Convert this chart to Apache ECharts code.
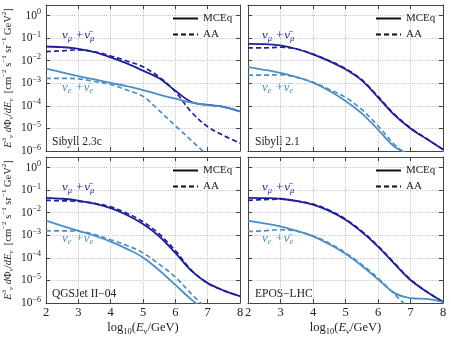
<!DOCTYPE html>
<html>
<head>
<meta charset="utf-8">
<script src="https://cdn.jsdelivr.net/npm/echarts@6/dist/echarts.min.js"></script>
<style>
html, body { margin: 0; padding: 0; background: #fff; }
#chart { width: 451px; height: 337px; }
</style>
</head>
<body>
<div id="chart"></div>
<script>
// log10(E/GeV) sample points
const logE = [2, 2.5, 3, 3.5, 4, 4.5, 5, 5.5, 6, 6.5, 7, 7.5, 8];
const models = ['Sibyll 2.3c', 'Sibyll 2.1', 'QGSJet II\u221204', 'EPOS\u2212LHC'];

// log10 of E^3 dPhi/dE
const sib23cNumuMceq = [-1.37, -1.40, -1.47, -1.62, -1.85, -2.12, -2.44, -2.78, -3.33, -3.83, -3.96, -4.04, -4.25];
const sib23cNumuAa   = [-1.60, -1.56, -1.52, -1.60, -1.79, -2.01, -2.27, -2.72, -3.37, -4.28, -4.92, -5.32, -5.65];
const sib23cNueMceq  = [-2.35, -2.52, -2.68, -2.83, -2.98, -3.13, -3.30, -3.50, -3.68, -3.86, -3.97, -4.05, -4.25];
const sib23cNueAa    = [-2.78, -2.78, -2.80, -2.92, -3.05, -3.30, -3.58, -4.21, -4.88, -5.54, -6.20, null, null];

const sib21NumuMceq = [-1.25, -1.26, -1.32, -1.48, -1.72, -2.02, -2.38, -2.87, -3.62, -4.40, -5.00, -5.47, -5.93];
const sib21NumuAa   = [-1.43, -1.43, -1.40, -1.48, -1.70, -2.00, -2.35, -2.84, -3.58, -4.37, -4.98, -5.46, -5.93];
const sib21NueMceq  = [-2.28, -2.40, -2.54, -2.73, -2.97, -3.33, -3.78, -4.33, -5.05, -5.80, -6.15, null, null];
const sib21NueAa    = [-2.64, -2.64, -2.62, -2.74, -2.95, -3.27, -3.62, -4.16, -4.88, -5.70, -6.30, null, null];

const qgsNumuMceq = [-1.34, -1.38, -1.46, -1.60, -1.80, -2.10, -2.50, -3.04, -3.78, -4.58, -5.12, -5.45, -5.70];
const qgsNumuAa   = [-1.45, -1.47, -1.50, -1.58, -1.74, -2.02, -2.40, -2.94, -3.68, -4.55, -5.12, -5.45, -5.70];
const qgsNueMceq  = [-2.35, -2.58, -2.80, -3.02, -3.28, -3.60, -3.98, -4.55, -5.20, -5.85, -6.40, null, null];
const qgsNueAa    = [-2.80, -2.80, -2.82, -2.97, -3.20, -3.45, -3.78, -4.28, -4.85, -5.60, -6.30, null, null];

const eposNumuMceq = [-1.34, -1.35, -1.38, -1.48, -1.64, -1.92, -2.31, -2.85, -3.50, -4.25, -4.98, -5.50, -5.95];
const eposNumuAa   = [-1.45, -1.42, -1.40, -1.48, -1.62, -1.89, -2.28, -2.82, -3.47, -4.22, -4.96, -5.50, -5.95];
const eposNueMceq  = [-2.35, -2.47, -2.60, -2.80, -3.05, -3.40, -3.82, -4.35, -4.95, -5.55, -5.78, -5.82, -5.95];
const eposNueAa    = [-2.83, -2.80, -2.75, -2.82, -3.02, -3.35, -3.78, -4.30, -4.90, -5.60, -6.30, null, null];

const panels = [
  [sib23cNumuMceq, sib23cNumuAa, sib23cNueMceq, sib23cNueAa],
  [sib21NumuMceq, sib21NumuAa, sib21NueMceq, sib21NueAa],
  [qgsNumuMceq, qgsNumuAa, qgsNueMceq, qgsNueAa],
  [eposNumuMceq, eposNumuAa, eposNueMceq, eposNueAa]
];

const darkBlue = '#1f1f9c';
const lightBlue = '#4a8fc8';
const serif = 'Liberation Serif';
const frameColor = '#444';

const grids = [
  { left: 45, right: 211, top: 5, bottom: 186 },
  { left: 248, right: 8, top: 5, bottom: 186 },
  { left: 45, right: 211, top: 157, bottom: 34 },
  { left: 248, right: 8, top: 157, bottom: 34 }
];

const toPoints = arr => logE.map((x, i) => [x, arr[i] == null ? null : Math.pow(10, arr[i])]).filter(p => p[1] != null);

const supRich = {
  b: { fontFamily: serif, fontSize: 11.5, lineHeight: 15, color: '#222' },
  s: { fontFamily: serif, fontSize: 8, lineHeight: 8, verticalAlign: 'top', color: '#222' }
};

const yFormatter = v => {
  const p = Math.log10(v);
  const r = Math.round(p);
  if (Math.abs(p - r) > 1e-6) return '';
  return '{b|10}{s|' + (r < 0 ? '\u2212' + (-r) : r) + '}';
};

const mathRich = {
  i: { fontFamily: serif, fontStyle: 'italic', fontSize: 10.5, lineHeight: 14, color: '#222' },
  sup: { fontFamily: serif, fontSize: 7, lineHeight: 7, verticalAlign: 'top', color: '#222' },
  sub: { fontFamily: serif, fontStyle: 'italic', fontSize: 7, lineHeight: 7, verticalAlign: 'bottom', color: '#222' }
};

const xAxes = [], yAxes = [], series = [], legends = [], graphics = [];

grids.forEach((g, k) => {
  const isBottom = k >= 2;
  const isLeft = k % 2 === 0;
  xAxes.push({
    type: 'value', gridIndex: k, min: 2, max: 8, interval: 1, position: 'bottom',
    axisLine: { show: true, lineStyle: { color: frameColor, width: 1 } },
    axisTick: { show: true, inside: true, length: 4, lineStyle: { color: frameColor } },
    axisLabel: { show: isBottom, margin: 3, fontFamily: serif, fontSize: 12.5, color: '#222' },
    splitLine: { show: true, lineStyle: { color: '#c8c8c8', type: 'dotted' } },
    name: isBottom ? '{n|log}{s|10}{n|(}{i|E}{s|\u03bd}{n|/GeV)}' : '',
    nameLocation: 'middle', nameGap: 17,
    nameTextStyle: {
      rich: {
        n: { fontFamily: serif, fontSize: 12.5, lineHeight: 16, color: '#222' },
        i: { fontFamily: serif, fontStyle: 'italic', fontSize: 12.5, lineHeight: 16, color: '#222' },
        s: { fontFamily: serif, fontSize: 8.5, lineHeight: 8, verticalAlign: 'bottom', color: '#222' }
      }
    }
  });
  xAxes.push({
    type: 'value', gridIndex: k, min: 2, max: 8, interval: 1, position: 'top',
    axisLine: { show: true, lineStyle: { color: frameColor, width: 1 } },
    axisTick: { show: true, inside: true, length: 4, lineStyle: { color: frameColor } },
    axisLabel: { show: false }, splitLine: { show: false }
  });
  yAxes.push({
    type: 'log', gridIndex: k, min: 1e-6, max: Math.pow(10, 0.47), logBase: 10, position: 'left',
    axisLine: { show: true, lineStyle: { color: frameColor, width: 1 } },
    axisTick: { show: true, inside: true, length: 4, lineStyle: { color: frameColor } },
    axisLabel: { show: isLeft, margin: 5, formatter: yFormatter, rich: supRich },
    splitLine: { show: true, lineStyle: { color: '#c8c8c8', type: 'dotted' } },
    name: isLeft ? '{i|E}{sup|3}{sub|\u03bd} {i|d}\u03a6{sub|\u03bd}/{i|dE}{sub|\u03bd}  [cm{sup|\u22122} s{sup|\u22121} sr{sup|\u22121} GeV{sup|2}]' : '',
    nameLocation: 'middle', nameRotate: 90, nameGap: 31,
    nameTextStyle: { fontFamily: serif, fontSize: 10.5, lineHeight: 14, color: '#222', rich: mathRich }
  });
  yAxes.push({
    type: 'log', gridIndex: k, min: 1e-6, max: Math.pow(10, 0.47), logBase: 10, position: 'right',
    axisLine: { show: true, lineStyle: { color: frameColor, width: 1 } },
    axisTick: { show: true, inside: true, length: 4, lineStyle: { color: frameColor } },
    axisLabel: { show: false }, splitLine: { show: false }
  });

  const [numuM, numuA, nueM, nueA] = panels[k];
  const base = { type: 'line', xAxisIndex: 2 * k, yAxisIndex: 2 * k, symbol: 'none', smooth: 0.35, clip: true, silent: true };
  series.push(Object.assign({}, base, { name: 'numu AA ' + k, data: toPoints(numuA), lineStyle: { color: darkBlue, width: 1.7, type: [5, 3] }, itemStyle: { color: darkBlue } }));
  series.push(Object.assign({}, base, { name: 'nue AA ' + k, data: toPoints(nueA), lineStyle: { color: lightBlue, width: 1.7, type: [5, 3] }, itemStyle: { color: lightBlue } }));
  series.push(Object.assign({}, base, { name: 'numu MCEq ' + k, data: toPoints(numuM), lineStyle: { color: darkBlue, width: 1.8 }, itemStyle: { color: darkBlue } }));
  series.push(Object.assign({}, base, { name: 'nue MCEq ' + k, data: toPoints(nueM), lineStyle: { color: lightBlue, width: 1.8 }, itemStyle: { color: lightBlue } }));

  legends.push({
    orient: 'vertical', left: g.left + 127, top: isBottom ? 165 : 13, padding: 0,
    itemWidth: 25, itemHeight: 10, itemGap: 5, selectedMode: false,
    itemStyle: { opacity: 0, color: 'transparent', borderColor: 'transparent', borderWidth: 0 },
    data: ['MCEq', 'AA'],
    textStyle: { fontFamily: serif, fontSize: 11, color: '#222' }
  });

  const top = g.top;
  graphics.push({
    type: 'text', left: g.left + 7, top: top + 131,
    style: { text: models[k], font: '11.5px "Liberation Serif"', fill: '#222' }
  });
  graphics.push({
    type: 'text', left: g.left + (isLeft ? 17 : 14), top: top + 24,
    style: {
      text: '{v|\u03bd}{s|\u03bc} {v|+}{v|\u03bd\u0304}{s|\u03bc}',
      rich: {
        v: { fontFamily: serif, fontStyle: 'italic', fontSize: 13, lineHeight: 16, fill: darkBlue },
        s: { fontFamily: serif, fontStyle: 'italic', fontSize: 8.5, lineHeight: 8, verticalAlign: 'bottom', fill: darkBlue }
      }
    }
  });
  graphics.push({
    type: 'text', left: g.left + (isLeft ? 17 : 14), top: top + (isBottom ? 75 : 76),
    style: {
      text: '{v|\u03bd}{s|e} {v|+}{v|\u03bd\u0304}{s|e}',
      rich: {
        v: { fontFamily: serif, fontStyle: 'italic', fontSize: 13, lineHeight: 16, fill: lightBlue },
        s: { fontFamily: serif, fontStyle: 'italic', fontSize: 8.5, lineHeight: 8, verticalAlign: 'bottom', fill: lightBlue }
      }
    }
  });
});

// legend-only series (black line styles)
series.push({ name: 'MCEq', type: 'line', xAxisIndex: 0, yAxisIndex: 0, data: [], symbol: 'none', lineStyle: { color: '#111', width: 2 }, itemStyle: { color: '#111' } });
series.push({ name: 'AA', type: 'line', xAxisIndex: 0, yAxisIndex: 0, data: [], symbol: 'none', lineStyle: { color: '#111', width: 2, type: [5, 3] }, itemStyle: { color: '#111' } });

const chart = echarts.init(document.getElementById('chart'), null, { renderer: 'canvas' });
chart.setOption({
  animation: false,
  backgroundColor: '#fff',
  grid: grids.map(g => Object.assign({ containLabel: false, show: false }, g)),
  xAxis: xAxes,
  yAxis: yAxes,
  legend: legends,
  series: series,
  graphic: graphics
});
</script>
</body>
</html>
